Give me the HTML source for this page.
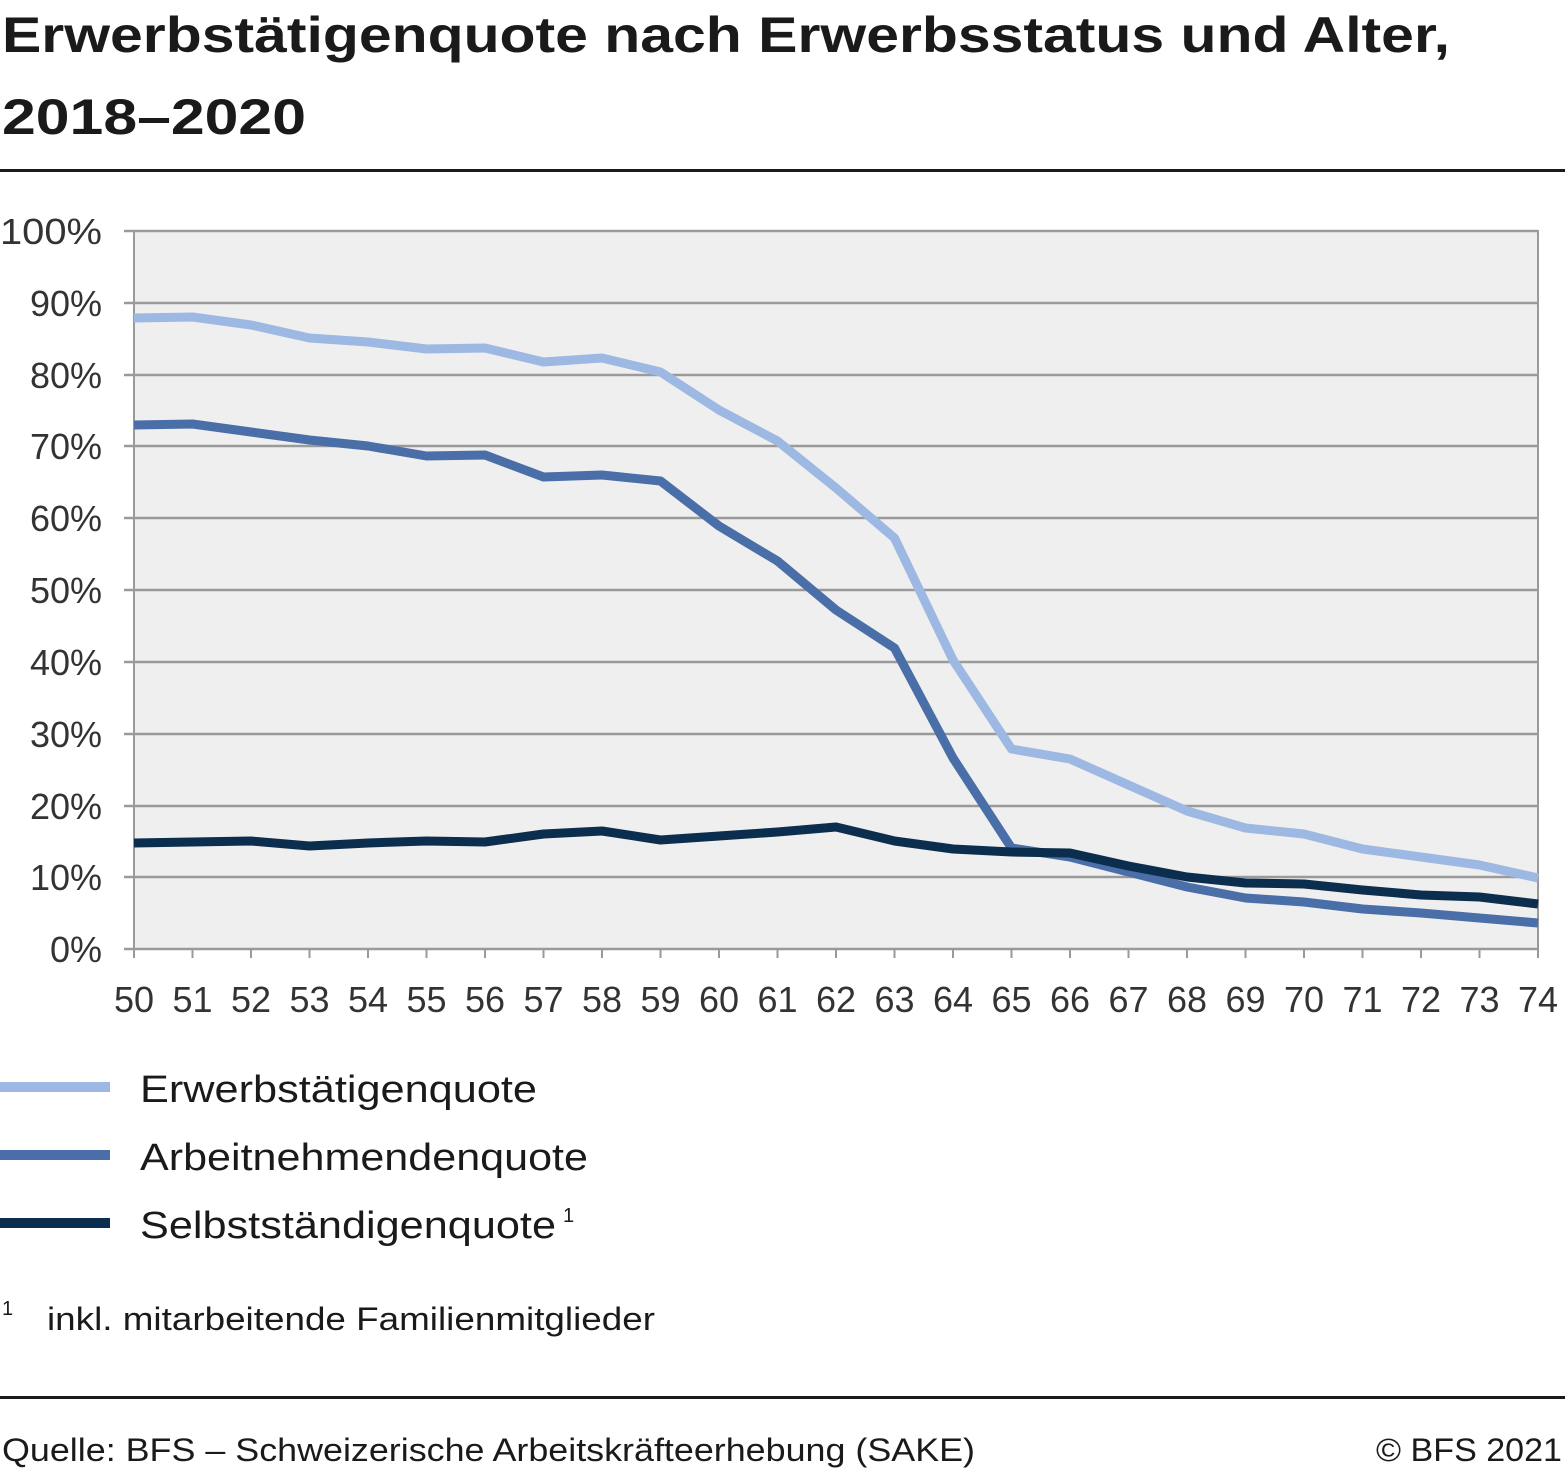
<!DOCTYPE html>
<html><head><meta charset="utf-8"><style>body{margin:0;background:#fff}svg{display:block}</style></head><body>
<svg width="1565" height="1471" viewBox="0 0 1565 1471" xmlns="http://www.w3.org/2000/svg" font-family="Liberation Sans, sans-serif">
<text x="2" y="52" font-size="50" font-weight="bold" fill="#1a1a1a" textLength="1448" lengthAdjust="spacingAndGlyphs">Erwerbstätigenquote nach Erwerbsstatus und Alter,</text>
<text x="2" y="134" font-size="50" font-weight="bold" fill="#1a1a1a" textLength="304" lengthAdjust="spacingAndGlyphs">2018–2020</text>
<rect x="0" y="169" width="1565" height="3" fill="#1a1a1a"/>
<rect x="134" y="231" width="1404" height="718" fill="#efefef" stroke="#9a9a9a" stroke-width="2"/>
<g stroke="#9a9a9a" stroke-width="2.5">
<line x1="124" y1="231" x2="1538" y2="231"/><line x1="124" y1="303" x2="1538" y2="303"/><line x1="124" y1="375" x2="1538" y2="375"/><line x1="124" y1="446" x2="1538" y2="446"/><line x1="124" y1="518" x2="1538" y2="518"/><line x1="124" y1="590" x2="1538" y2="590"/><line x1="124" y1="662" x2="1538" y2="662"/><line x1="124" y1="734" x2="1538" y2="734"/><line x1="124" y1="806" x2="1538" y2="806"/><line x1="124" y1="877" x2="1538" y2="877"/><line x1="124" y1="949" x2="1538" y2="949"/>
</g>
<g font-size="36" fill="#333" text-anchor="end">
<text x="102" y="244" textLength="102" lengthAdjust="spacingAndGlyphs">100%</text><text x="102" y="316">90%</text><text x="102" y="388">80%</text><text x="102" y="459">70%</text><text x="102" y="531">60%</text><text x="102" y="603">50%</text><text x="102" y="675">40%</text><text x="102" y="747">30%</text><text x="102" y="819">20%</text><text x="102" y="890">10%</text><text x="102" y="962">0%</text>
</g>
<g font-size="36" fill="#333" text-anchor="middle">
<text x="134" y="1012">50</text><text x="192.5" y="1012">51</text><text x="251" y="1012">52</text><text x="309.5" y="1012">53</text><text x="368" y="1012">54</text><text x="426.5" y="1012">55</text><text x="485" y="1012">56</text><text x="543.5" y="1012">57</text><text x="602" y="1012">58</text><text x="660.5" y="1012">59</text><text x="719" y="1012">60</text><text x="777.5" y="1012">61</text><text x="836" y="1012">62</text><text x="894.5" y="1012">63</text><text x="953" y="1012">64</text><text x="1011.5" y="1012">65</text><text x="1070" y="1012">66</text><text x="1128.5" y="1012">67</text><text x="1187" y="1012">68</text><text x="1245.5" y="1012">69</text><text x="1304" y="1012">70</text><text x="1362.5" y="1012">71</text><text x="1421" y="1012">72</text><text x="1479.5" y="1012">73</text><text x="1538" y="1012">74</text>
</g>
<path stroke="#9a9a9a" stroke-width="2" d="M134 949v9M192.5 949v9M251 949v9M309.5 949v9M368 949v9M426.5 949v9M485 949v9M543.5 949v9M602 949v9M660.5 949v9M719 949v9M777.5 949v9M836 949v9M894.5 949v9M953 949v9M1011.5 949v9M1070 949v9M1128.5 949v9M1187 949v9M1245.5 949v9M1304 949v9M1362.5 949v9M1421 949v9M1479.5 949v9M1538 949v9"/>
<g fill="none" stroke-width="9" stroke-linejoin="round">
<polyline stroke="#9db8e2" points="134,318 192.5,317 251,325 309.5,338 368,342 426.5,349 485,348 543.5,362 602,358 660.5,372 719,410 777.5,441 836,488 894.5,538 953,660 1011.5,749 1070,759 1128.5,785 1187,811 1245.5,828 1304,834 1362.5,849 1421,857 1479.5,865 1538,878"/>
<polyline stroke="#4a6ea8" points="134,425 192.5,424 251,432 309.5,440 368,446 426.5,456 485,455 543.5,477 602,475 660.5,481 719,526 777.5,561 836,610 894.5,648 953,758 1011.5,848 1070,857 1128.5,872 1187,887 1245.5,898 1304,902 1362.5,909 1421,913 1479.5,918 1538,923"/>
<polyline stroke="#0b2d4e" points="134,843 192.5,842 251,841 309.5,846 368,843 426.5,841 485,842 543.5,834 602,831 660.5,840 719,836 777.5,832 836,827 894.5,841 953,849 1011.5,852 1070,853 1128.5,866 1187,877 1245.5,883 1304,884 1362.5,890 1421,895 1479.5,897 1538,904"/>
</g>
<rect x="0" y="1082" width="110" height="10" fill="#9db8e2"/>
<rect x="0" y="1150" width="110" height="10" fill="#4a6ea8"/>
<rect x="0" y="1218" width="110" height="10" fill="#0b2d4e"/>
<g font-size="38" fill="#1a1a1a">
<text x="140" y="1102" textLength="397" lengthAdjust="spacingAndGlyphs">Erwerbstätigenquote</text>
<text x="140" y="1170" textLength="448" lengthAdjust="spacingAndGlyphs">Arbeitnehmendenquote</text>
<text x="140" y="1238" textLength="416" lengthAdjust="spacingAndGlyphs">Selbstständigenquote</text>
<text x="563" y="1222" font-size="20">1</text>
</g>
<text x="2" y="1315" font-size="20" fill="#1a1a1a">1</text>
<text x="47" y="1330" font-size="32" fill="#1a1a1a" textLength="608" lengthAdjust="spacingAndGlyphs">inkl. mitarbeitende Familienmitglieder</text>
<rect x="0" y="1396" width="1565" height="3" fill="#1a1a1a"/>
<text x="2" y="1461" font-size="32" fill="#1a1a1a" textLength="973" lengthAdjust="spacingAndGlyphs">Quelle: BFS – Schweizerische Arbeitskräfteerhebung (SAKE)</text>
<text x="1562" y="1461" font-size="32" fill="#1a1a1a" text-anchor="end" textLength="186" lengthAdjust="spacingAndGlyphs">© BFS 2021</text>
</svg>
</body></html>
